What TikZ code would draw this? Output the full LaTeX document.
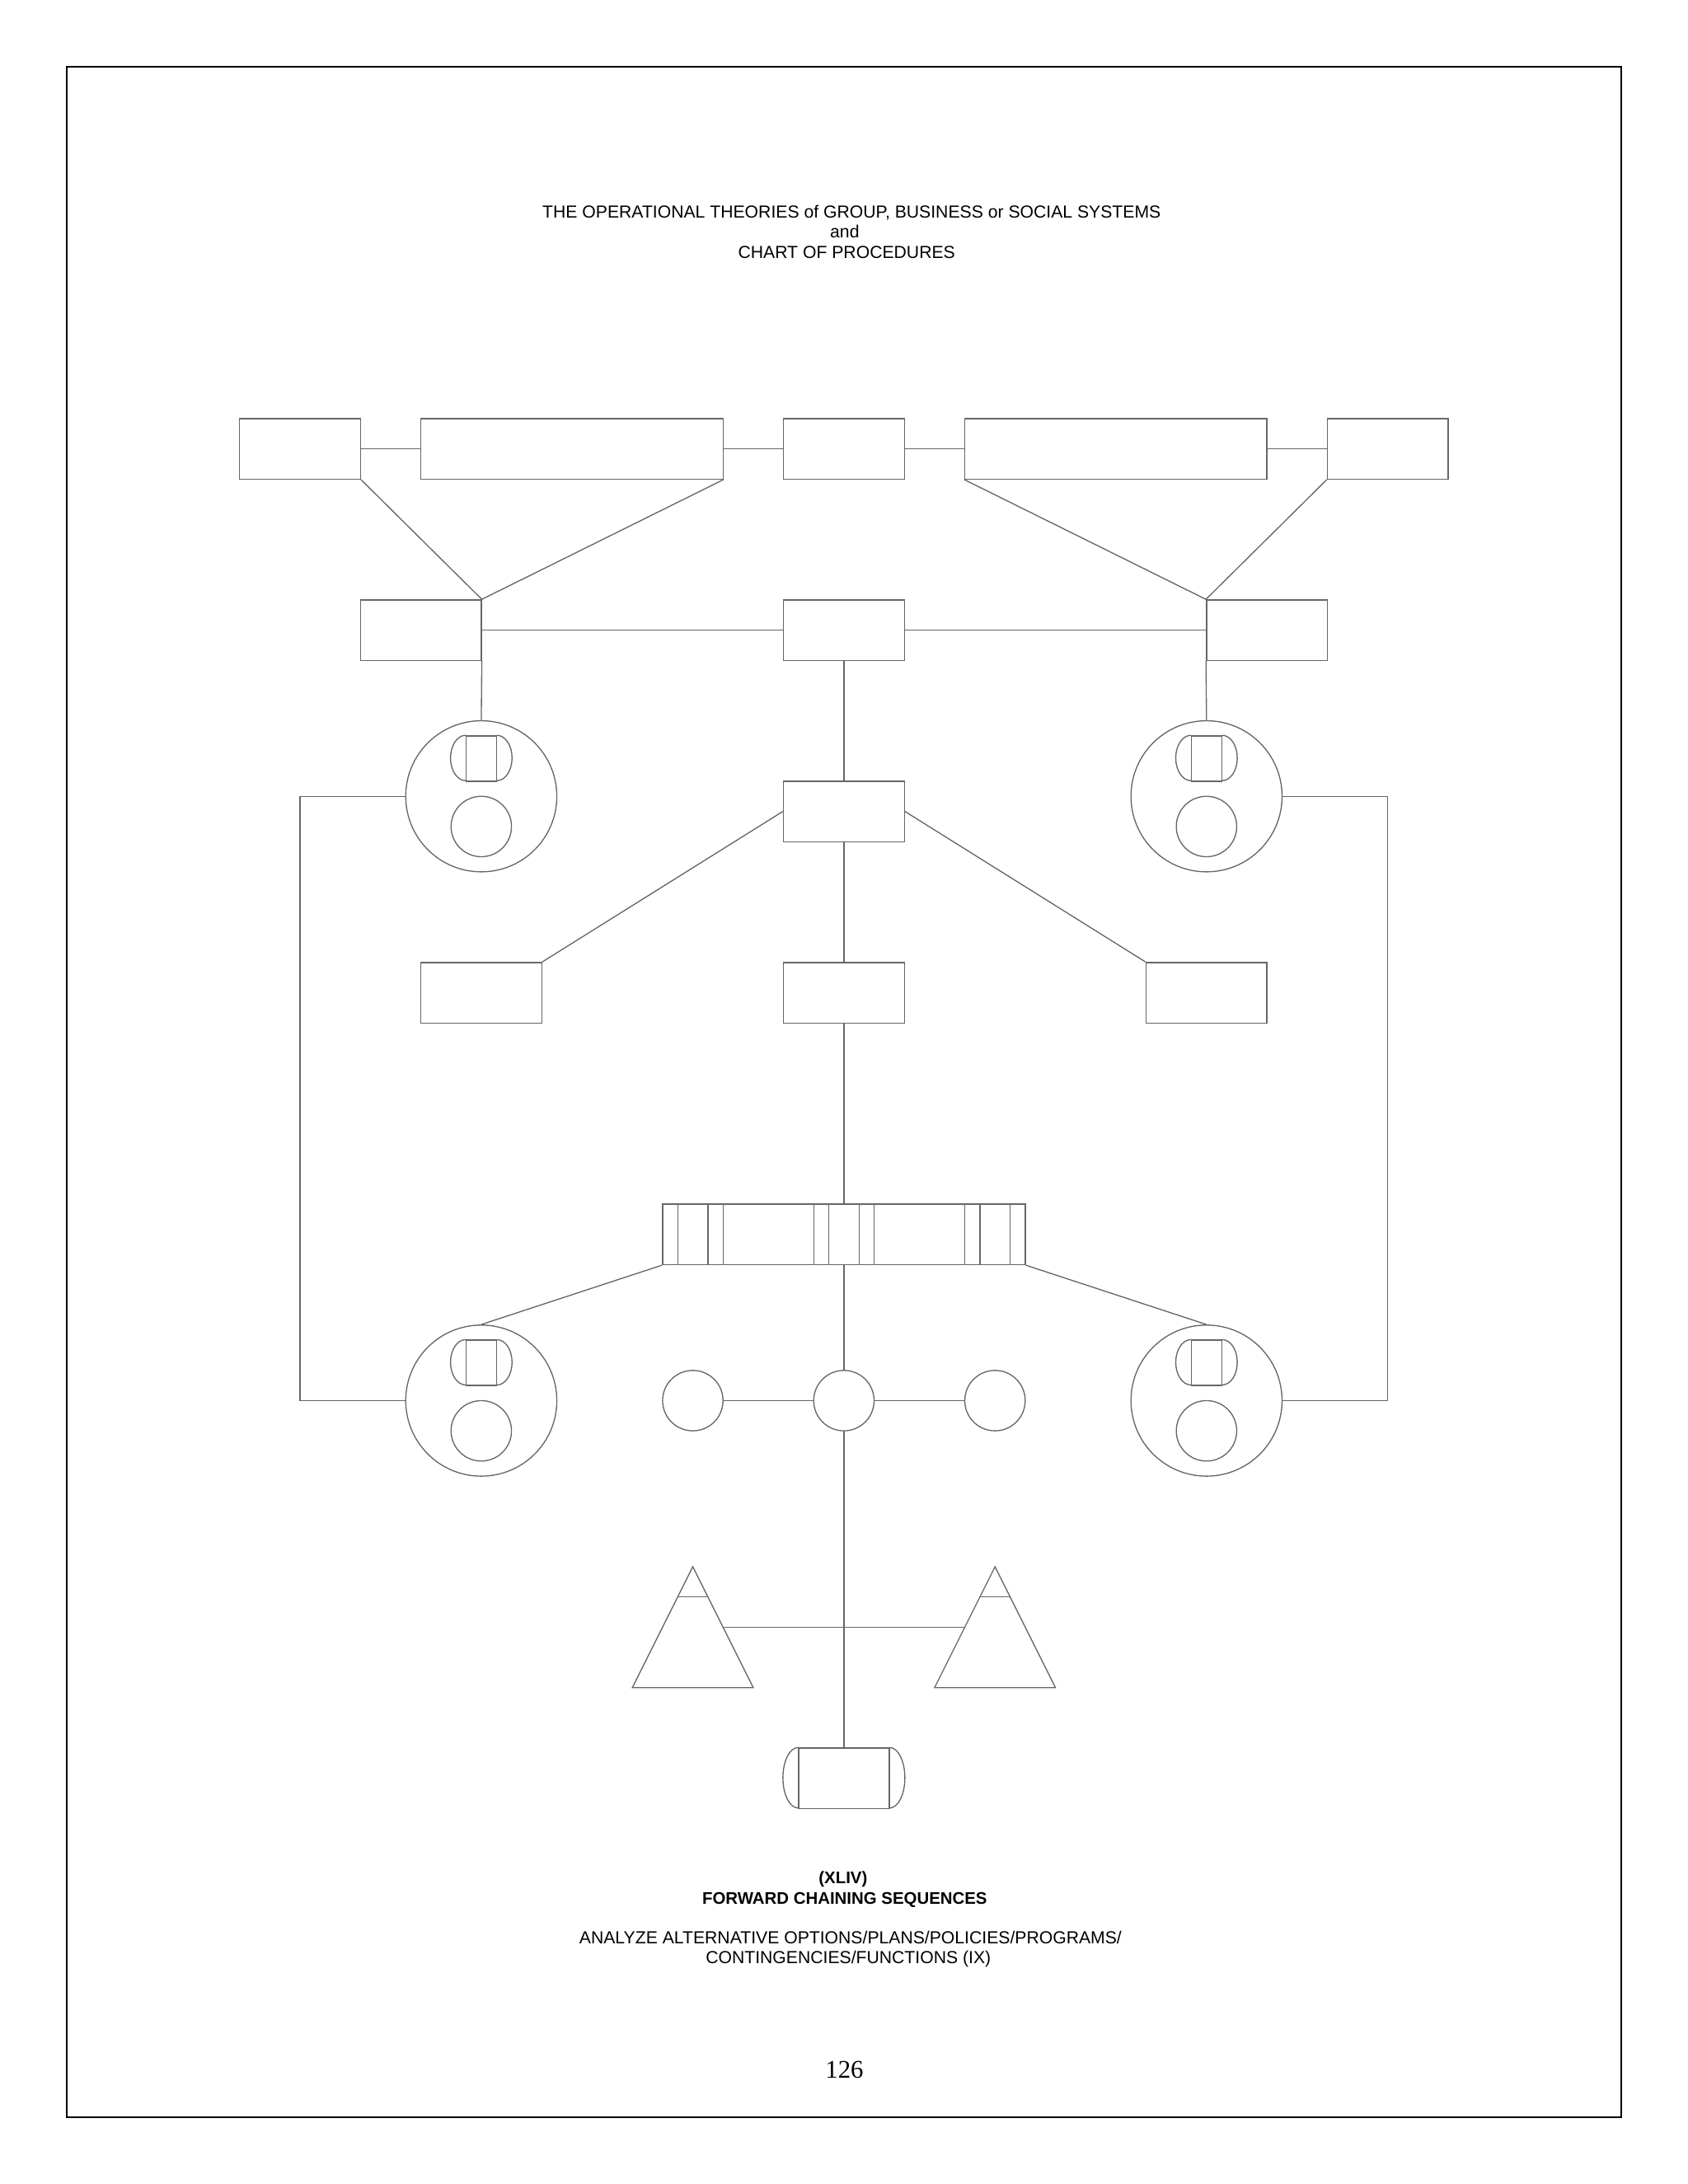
\documentclass[tikz,border=0pt]{standalone}
\usepackage{fontspec}
\setmainfont{Liberation Sans}
\newfontfamily\pagenumfont{Liberation Serif}
\newcommand{\capends}[3]{%
  \draw[ln] (#1.north west) arc[start angle=90,end angle=270,x radius=#2,y radius=#3];
  \draw[ln] (#1.north east) arc[start angle=90,end angle=-90,x radius=#2,y radius=#3];}
\newcommand{\sysunit}[3]{%
  \node[bigc] (#1) at (#2,#3) {};
  \node[capbox] (#1cap) at (#2,#3-2.5) {};
  \capends{#1cap}{5.4786pt}{8.218pt}
  \node[smc] (#1in) at (#2,#3+2) {};}
\begin{document}
\begin{tikzpicture}[
  ln/.style={line width=0.4pt, draw=black!60},
  box/.style={ln, rectangle, inner sep=0pt, minimum width=43.83pt, minimum height=21.91pt},
  wbox/.style={box, minimum width=109.57pt},
  barbox/.style={box, minimum width=131.49pt},
  cylbox/.style={box, minimum width=32.87pt},
  capbox/.style={ln, rectangle, inner sep=0pt, minimum width=10.96pt, minimum height=16.44pt},
  bigc/.style={ln, circle, inner sep=0pt, minimum size=54.79pt},
  smc/.style={ln, circle, inner sep=0pt, minimum size=21.91pt},
  txt/.style={inner sep=0pt, anchor=base, font=\fontsize{6.33}{7.3}\selectfont},
  btxt/.style={inner sep=0pt, anchor=base, font=\fontsize{6.1}{7.3}\selectfont\bfseries},
]
\path[use as bounding box] (0pt,0pt) rectangle (612pt,-792pt);
\draw[line width=0.6pt] (24.1pt,-24.1pt) rectangle (587.9pt,-767.9pt);
% texts
\node[txt] (t1) at (308.8pt,-79.0pt) {THE OPERATIONAL THEORIES of GROUP, BUSINESS or SOCIAL SYSTEMS};
\node[txt] (t2) at (306.3pt,-86.3pt) {and};
\node[txt] (t3) at (307.0pt,-93.6pt) {CHART OF PROCEDURES};
\node[btxt] (f1) at (305.7pt,-683.1pt) {(XLIV)};
\node[btxt] (f2) at (306.3pt,-690.5pt) {FORWARD CHAINING SEQUENCES};
\node[txt] (f3) at (308.4pt,-705.0pt) {ANALYZE ALTERNATIVE OPTIONS/PLANS/POLICIES/PROGRAMS/};
\node[txt] (f4) at (307.6pt,-712.0pt) {CONTINGENCIES/FUNCTIONS (IX)};
\node[inner sep=0pt, anchor=base, font=\pagenumfont\fontsize{9.2}{11}\selectfont] (pg) at (306.2pt,-753.6pt) {126};
\begin{scope}[shift={(306pt,-151.8pt)}, x=5.4786pt, y=-5.4786pt]
  % top row
  \node[box]  (B1) at (-36,2) {};
  \node[wbox] (B2) at (-18,2) {};
  \node[box]  (B3) at (0,2) {};
  \node[wbox] (B4) at (18,2) {};
  \node[box]  (B5) at (36,2) {};
  % second row
  \node[box] (C1) at (-28,14) {};
  \node[box] (C2) at (0,14) {};
  \node[box] (C3) at (28,14) {};
  % middle
  \node[box] (D) at (0,26) {};
  \node[box] (E) at (0,38) {};
  \node[box] (F1) at (-24,38) {};
  \node[box] (F3) at (24,38) {};
  % bar
  \node[barbox] (bar) at (0,54) {};
  \foreach \xx in {-11,-9,-8,-2,-1,1,2,8,9,11}
    \draw[ln] (\xx,52) -- (\xx,56);
  % circle units
  \sysunit{L1}{-24}{25}
  \sysunit{R1}{24}{25}
  \sysunit{L2}{-24}{65}
  \sysunit{R2}{24}{65}
  % small circles
  \node[smc] (S1) at (-10,65) {};
  \node[smc] (S2) at (0,65) {};
  \node[smc] (S3) at (10,65) {};
  % triangles
  \draw[ln] (-10,76) -- (-14,84) -- (-6,84) -- cycle;
  \draw[ln] (-11,78) -- (-9,78);
  \draw[ln] (10,76) -- (6,84) -- (14,84) -- cycle;
  \draw[ln] (9,78) -- (11,78);
  \coordinate (T1r) at (-8,80);
  \coordinate (T2l) at (8,80);
  % cylinder
  \node[cylbox] (cyl) at (0,90) {};
  \capends{cyl}{5.4786pt}{10.957pt}
  % outer loop coordinates
  \coordinate (lv1) at (-36,25);
  \coordinate (lv2) at (-36,65);
  \coordinate (rv1) at (36,25);
  \coordinate (rv2) at (36,65);
  % connectors
  \draw[ln] (B1) -- (B2);
  \draw[ln] (B2) -- (B3);
  \draw[ln] (B3) -- (B4);
  \draw[ln] (B4) -- (B5);
  \draw[ln] (B1.south east) -- (C1.north east);
  \draw[ln] (B2.south east) -- (C1.north east);
  \draw[ln] (B4.south west) -- (C3.north west);
  \draw[ln] (B5.south west) -- (C3.north west);
  \draw[ln] (C1.east) -- (C2.west);
  \draw[ln] (C2.east) -- (C3.west);
  \draw[ln] (C1.south east) -- (L1.north);
  \draw[ln] (C3.south west) -- (R1.north);
  \draw[ln] (C2) -- (D);
  \draw[ln] (D) -- (E);
  \draw[ln] (E) -- (bar);
  \draw[ln] (D.west) -- (F1.north east);
  \draw[ln] (D.east) -- (F3.north west);
  \draw[ln] (L1.west) -- (lv1) -- (lv2) -- (L2.west);
  \draw[ln] (R1.east) -- (rv1) -- (rv2) -- (R2.east);
  \draw[ln] (bar.south west) -- (L2.north);
  \draw[ln] (bar.south east) -- (R2.north);
  \draw[ln] (bar) -- (S2);
  \draw[ln] (S1) -- (S2);
  \draw[ln] (S2) -- (S3);
  \draw[ln] (S2) -- (cyl);
  \draw[ln] (T1r) -- (T2l);
\end{scope}
\end{tikzpicture}
\end{document}
